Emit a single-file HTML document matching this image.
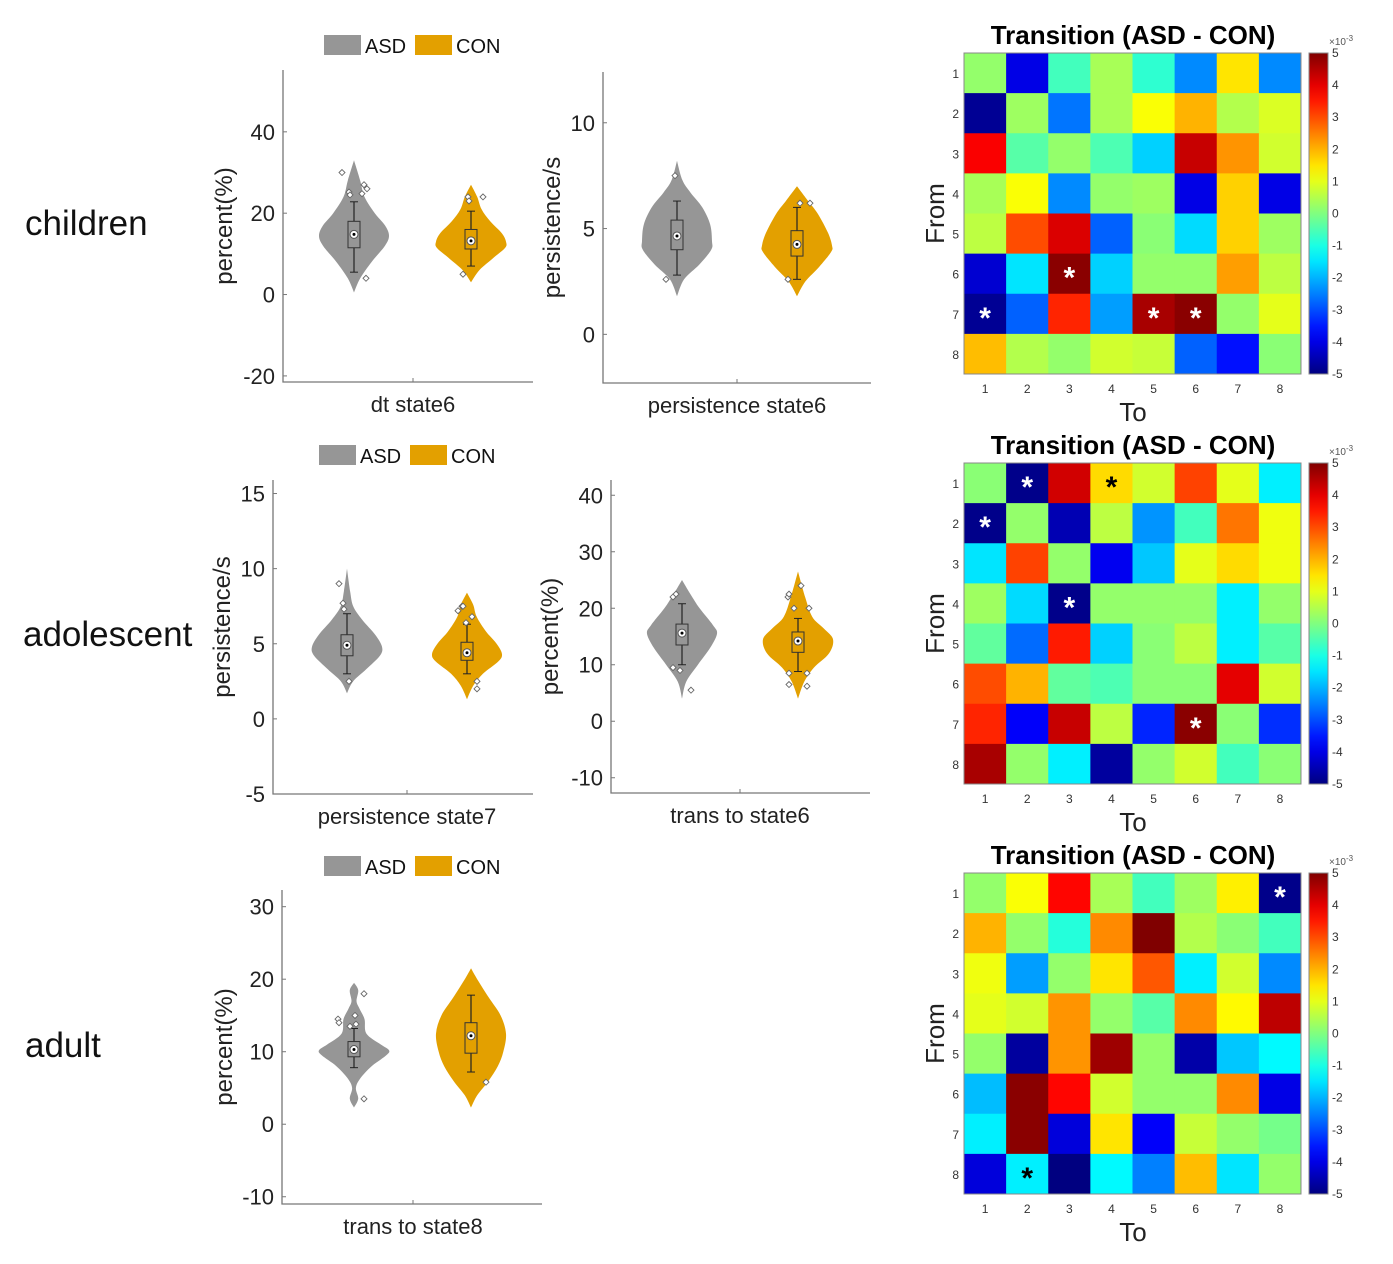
<!DOCTYPE html>
<html><head><meta charset="utf-8">
<style>
body{margin:0;background:#fff;}
svg{display:block;font-family:"Liberation Sans","DejaVu Sans",sans-serif;}
</style></head>
<body>
<svg id="fig" width="1393" height="1264" viewBox="0 0 1393 1264" xmlns="http://www.w3.org/2000/svg">
<rect width="1393" height="1264" fill="#fff"/>
<text x="25" y="235" font-size="35" fill="#111">children</text>
<text x="23" y="646" font-size="35" fill="#111">adolescent</text>
<text x="25" y="1057" font-size="35" fill="#111">adult</text>
<g id="violins"></g>
<g id="heatmaps"></g>
</svg>
<script>
// ---------- Violin data ----------
const panelTitles = ["dt state6","persistence state6","persistence state7","trans to state6","trans to state8"];
const panelYLabels = ["percent(%)","persistence/s","persistence/s","percent(%)","percent(%)"];
const panelTicks = [[-20,0,20,40],[0,5,10],[-5,0,5,10,15],[-10,0,10,20,30,40],[-10,0,10,20,30]];
const panelYRange = [[-21.5,55.2],[-2.3,12.4],[-5,15.9],[-12.7,42.7],[-11,32.3]];
// violin density knots [value, relative half-width]
const asdShapes = [
 [[0.5,0],[4,0.1],[8,0.4],[12,0.85],[14.5,1],[17,0.85],[20,0.5],[24,0.2],[28,0.1],[33,0]],
 [[1.8,0],[2.6,0.12],[3.3,0.55],[4.0,0.97],[4.4,1],[5.2,0.93],[6.0,0.65],[6.7,0.28],[7.3,0.08],[8.2,0]],
 [[1.7,0],[2.5,0.1],[3.3,0.45],[4.2,0.92],[4.8,1],[5.6,0.75],[6.6,0.33],[7.5,0.1],[8.5,0.04],[10,0]],
 [[4,0],[7,0.06],[10,0.35],[13,0.75],[15.5,1],[17,0.85],[20,0.4],[22.5,0.15],[25,0]],
 [[2.3,0],[3.5,0.06],[5,0.02],[6.3,0.1],[8,0.4],[9.5,0.9],[10.2,1],[11,0.7],[12.5,0.25],[14.5,0.2],[16,0.08],[17,0.03],[18.5,0.06],[19.5,0]]
];
const conShapes = [
 [[3,0],[6,0.15],[9,0.55],[11.5,0.97],[13,1],[15,0.85],[18,0.45],[21,0.2],[24,0.1],[27,0]],
 [[1.8,0],[2.5,0.15],[3.2,0.55],[3.9,0.97],[4.2,1],[4.8,0.85],[5.7,0.5],[6.3,0.22],[7.0,0]],
 [[1.3,0],[2.2,0.1],[3.0,0.35],[3.8,0.85],[4.3,1],[5.0,0.8],[5.8,0.45],[6.8,0.18],[7.6,0.1],[8.4,0]],
 [[4,0],[7,0.1],[9.5,0.35],[12,0.85],[14.5,1],[16.5,0.65],[18.5,0.3],[22,0.12],[26.5,0]],
 [[2.3,0],[4,0.1],[6,0.4],[8,0.7],[10,0.9],[12.5,1],[15,0.8],[17.5,0.4],[20,0.1],[21.5,0]]
];
// box stats [whiskerLow, q1, median, q3, whiskerHigh]
const asdBox = [[5.5,11.5,14.8,18,22.8],[2.8,4.0,4.65,5.4,6.3],[3.0,4.2,4.9,5.6,7.0],[10,13.5,15.6,17.2,20.8],[7.8,9.3,10.3,11.4,13.2]];
const conBox = [[7,11.2,13.2,16,20.5],[2.6,3.7,4.25,4.9,6.0],[3.0,3.9,4.4,5.1,6.3],[8.8,12.2,14.2,15.8,18.2],[7.2,9.8,12.2,14,17.8]];
// outlier points [value, jitter]
const asdPts = [
 [[30,-12],[25.2,-5],[24.5,-4],[24.8,8],[27,10],[26,13],[4,12]],
 [[7.5,-2],[2.6,-11]],
 [[9,-8],[7.7,-4],[7.3,-3],[2.5,2]],
 [[22,-9],[22.5,-6],[9.5,-9],[9,-2],[5.5,9]],
 [[18,10],[14.5,-16],[14,-15],[15,1],[13.5,-4],[13.8,2],[3.5,10]]
];
const conPts = [
 [[24,-3],[23,-2],[24,12],[5,-8]],
 [[6.2,3],[6.2,13],[2.6,-9]],
 [[7.2,-9],[7.5,-5],[7.5,-4],[6.8,5],[6.4,-1],[2.5,10],[2,10]],
 [[22,-10],[22.5,-9],[24,3],[20,-4],[20,11],[8.5,-9],[8.5,9],[6.5,-9],[6.2,9]],
 [[5.8,15]]
];
// ---------- Heatmap data (x10^-3) ----------
const hmRows = [1,2,3,4,5,6,7,8];
const hmCols = [1,2,3,4,5,6,7,8];
const hm1 = [
 [0.2,-4,-0.6,0.4,-0.8,-2.4,1.5,-2.4],
 [-4.8,0.3,-2.6,0.4,1.2,2,0.5,0.9],
 [3.8,-0.4,0.2,-0.5,-1.7,4.3,2.3,0.8],
 [0.4,1.2,-2.4,0.2,0.3,-4,1.7,-4],
 [0.6,3,4.1,-2.8,0.1,-1.6,1.7,0.3],
 [-4.2,-1.5,4.9,-1.7,0.2,0.2,2.2,0.6],
 [-4.8,-2.8,3.4,-2.2,4.6,4.9,0.2,1.0],
 [1.9,0.5,0.2,0.8,0.7,-2.8,-3.6,0.1]];
const hm2 = [
 [0.1,-4.9,4.2,1.6,0.8,3.1,1.0,-1.4],
 [-4.9,0.2,-4.5,0.6,-2.3,-0.6,2.6,1.1],
 [-1.5,3.1,0.2,-3.9,-1.8,1.0,1.6,1.1],
 [0.3,-1.6,-4.9,0.2,0.2,0.2,-1.4,0.2],
 [-0.3,-2.7,3.5,-1.7,0.1,0.6,-1.4,-0.4],
 [3.0,2.0,-0.3,-0.5,0.1,0.1,4.0,0.8],
 [3.4,-3.8,4.3,0.6,-3.4,4.9,0.1,-3.3],
 [4.6,0.2,-1.4,-4.7,0.2,0.8,-0.6,0.1]];
const hm3 = [
 [0.2,1.2,3.7,0.4,-0.6,0.3,1.4,-4.9],
 [2.0,0.2,-0.9,2.4,5.0,0.5,0.1,-0.6],
 [1.1,-2.2,0.2,1.5,2.9,-1.4,0.8,-2.4],
 [1.0,0.8,2.3,0.2,-0.4,2.4,1.3,4.4],
 [0.2,-4.7,2.3,4.7,0.2,-4.6,-1.8,-1.3],
 [-1.9,4.9,3.7,0.8,0.2,0.2,2.4,-4.0],
 [-1.4,4.9,-4.1,1.5,-3.8,0.7,0.2,-0.1],
 [-4.1,-1.4,-5.0,-1.3,-2.5,1.9,-1.5,0.2]];
// significance stars [row, col, colour]
const stars1 = [[6,3,"w"],[7,1,"w"],[7,5,"w"],[7,6,"w"]];
const stars2 = [[1,2,"w"],[1,4,"k"],[2,1,"w"],[4,3,"w"],[7,6,"w"]];
const stars3 = [[1,8,"w"],[8,2,"k"]];
const cbTicks = [-5,-4,-3,-2,-1,0,1,2,3,4,5];

const NS="http://www.w3.org/2000/svg";
function mk(tag,attrs,parent,txt){const e=document.createElementNS(NS,tag);for(const k in attrs)e.setAttribute(k,attrs[k]);if(txt!==undefined)e.textContent=txt;parent.appendChild(e);return e;}

const layouts = [
 {x0:283,x1:533,y0:70,y1:382,cA:354,cC:471,xt:413,leg:[324,35],ylx:222},
 {x0:603,x1:871,y0:72,y1:383,cA:677,cC:797,xt:737,leg:null,ylx:550},
 {x0:273,x1:533,y0:480,y1:794,cA:347,cC:467,xt:407,leg:[319,445],ylx:220},
 {x0:611,x1:870,y0:480,y1:793,cA:682,cC:798,xt:740,leg:null,ylx:548},
 {x0:282,x1:542,y0:890,y1:1204,cA:354,cC:471,xt:413,leg:[324,856],ylx:222}
];
const GREY="#969696", GOLD="#E3A000";
function smoothPath(pts){
  let d="M"+pts[0][0]+","+pts[0][1];
  for(let i=0;i<pts.length-1;i++){
    const p0=pts[Math.max(0,i-1)],p1=pts[i],p2=pts[i+1],p3=pts[Math.min(pts.length-1,i+2)];
    const c1=[p1[0]+(p2[0]-p0[0])/6,p1[1]+(p2[1]-p0[1])/6];
    const c2=[p2[0]-(p3[0]-p1[0])/6,p2[1]-(p3[1]-p1[1])/6];
    d+=" C"+c1[0].toFixed(1)+","+c1[1].toFixed(1)+" "+c2[0].toFixed(1)+","+c2[1].toFixed(1)+" "+p2[0].toFixed(1)+","+p2[1].toFixed(1);
  }
  return d;
}
const vg=document.getElementById("violins");
panelTitles.forEach((title,i)=>{
  const L=layouts[i], yr=panelYRange[i];
  const y=v=>L.y1-(v-yr[0])/(yr[1]-yr[0])*(L.y1-L.y0);
  const g=mk("g",{},vg);
  
  
  const ax=mk("path",{d:`M${L.x0},${L.y0} V${L.y1} H${L.x1}`,fill:"none",stroke:"#777","stroke-width":1.3},g);
  
  
  mk("line",{x1:L.xt,y1:L.y1,x2:L.xt,y2:L.y1-4,stroke:"#777"},g);
  panelTicks[i].forEach(t=>{
    mk("line",{x1:L.x0,y1:y(t),x2:L.x0+4,y2:y(t),stroke:"#777"},g);
    const tl=mk("text",{x:L.x0-8,y:y(t)+8,"font-size":22,"text-anchor":"end",fill:"#222"},g,String(t));
    
    
  });
  const yc=(L.y0+L.y1)/2+(i==2?-10:0);
  const yl=mk("text",{x:L.ylx+10,y:yc,"font-size":24,"text-anchor":"middle",fill:"#222",transform:`rotate(-90 ${L.ylx+10} ${yc})`},g,panelYLabels[i]);
  
  
  const xl=mk("text",{x:L.xt,y:L.y1+30,"font-size":22,"text-anchor":"middle",fill:"#222"},g,title);
  
  
  [[asdShapes[i],asdBox[i],asdPts[i],L.cA,GREY,"asd"],[conShapes[i],conBox[i],conPts[i],L.cC,GOLD,"con"]].forEach(([sh,bx,pts,cx,col,nm])=>{
    const hw=35;
    const wf=w=>Math.pow(Math.max(0,w),0.75)*hw;
    const right=sh.map(k=>[cx+wf(k[1]),y(k[0])]);
    const left=sh.slice().reverse().map(k=>[cx-wf(k[1]),y(k[0])]);
    const d=smoothPath(right)+" L"+smoothPath(left).slice(1)+" Z";
    const v=mk("path",{d:d,fill:col,stroke:"none"},g);
    
    
    mk("line",{x1:cx,y1:y(bx[0]),x2:cx,y2:y(bx[4]),stroke:"#222","stroke-width":1.2},g);
    mk("line",{x1:cx-4,y1:y(bx[0]),x2:cx+4,y2:y(bx[0]),stroke:"#222"},g);
    mk("line",{x1:cx-4,y1:y(bx[4]),x2:cx+4,y2:y(bx[4]),stroke:"#222"},g);
    const b=mk("rect",{x:cx-6,y:y(bx[3]),width:12,height:y(bx[1])-y(bx[3]),fill:col,stroke:"#333","stroke-width":1},g);
    
    
    mk("circle",{cx:cx,cy:y(bx[2]),r:4,fill:"#fff",stroke:"#555"},g);
    mk("circle",{cx:cx,cy:y(bx[2]),r:1.5,fill:"#000"},g);
    pts.forEach(p=>{
      const py=y(p[0]), px=cx+p[1];
      const o=mk("path",{d:`M${px},${py-3} L${px+3},${py} L${px},${py+3} L${px-3},${py} Z`,fill:"#fff",stroke:"#666","stroke-width":0.9},g);
      
      
    });
  });
  if(L.leg){
    const [lx,ly]=L.leg;
    const lg=mk("g",{},g);
    
    
    mk("rect",{x:lx,y:ly,width:37,height:20,fill:GREY},lg);
    mk("text",{x:lx+41,y:ly+18,"font-size":20,fill:"#111"},lg,"ASD");
    mk("rect",{x:lx+91,y:ly,width:37,height:20,fill:GOLD},lg);
    mk("text",{x:lx+132,y:ly+18,"font-size":20,fill:"#111"},lg,"CON");
  }
});

// ---------- Heatmaps ----------
function jet(v){
  const t=(v+5)/10;
  const f=x=>Math.max(0,Math.min(1,x));
  const r=f(Math.min(4*t-1.5,-4*t+4.5));
  const gg=f(Math.min(4*t-0.5,-4*t+3.5));
  const b=f(Math.min(4*t+0.5,-4*t+2.5));
  return `rgb(${Math.round(r*255)},${Math.round(gg*255)},${Math.round(b*255)})`;
}
const hg=document.getElementById("heatmaps");
const defs=mk("defs",{},hg);
const grad=mk("linearGradient",{id:"jetgrad",x1:0,y1:1,x2:0,y2:0},defs);
for(let k=0;k<=20;k++){mk("stop",{offset:k/20,"stop-color":jet(-5+k/2)},grad);}
[[hm1,stars1,53],[hm2,stars2,463],[hm3,stars3,873]].forEach(([M,S,top],hi)=>{
  const left=964,right=1301,bottom=top+321;
  const cw=(right-left)/hmCols.length, ch=(bottom-top)/hmRows.length;
  const g=mk("g",{},hg);
  
  
  const tt=mk("text",{x:1133,y:top-9,"font-size":26,"font-weight":"bold","text-anchor":"middle",fill:"#000"},g,"Transition (ASD - CON)");
  
  
  hmRows.forEach((r,ri)=>{
    hmCols.forEach((c,ci)=>{
      const cell=mk("rect",{x:left+ci*cw,y:top+ri*ch,width:cw+0.5,height:ch+0.5,fill:jet(M[ri][ci])},g);
      
      
    });
    mk("text",{x:left-5,y:top+(ri+0.5)*ch+5,"font-size":12,"text-anchor":"end",fill:"#333"},g,String(r));
  });
  hmCols.forEach((c,ci)=>{
    mk("text",{x:left+(ci+0.5)*cw,y:bottom+19,"font-size":12,"text-anchor":"middle",fill:"#333"},g,String(c));
  });
  mk("rect",{x:left,y:top,width:right-left,height:bottom-top,fill:"none",stroke:"#888","stroke-width":1},g);
  S.forEach(([r,c,col])=>{
    const s=mk("text",{x:left+(c-0.5)*cw,y:top+(r-0.5)*ch+14,"font-size":30,"font-weight":"bold","text-anchor":"middle",fill:col=="w"?"#fff":"#000"},g,"*");
    
    
  });
  const xt=mk("text",{x:1133,y:bottom+47,"font-size":26,"text-anchor":"middle",fill:"#222"},g,"To");
  
  
  const yc=(top+bottom)/2;
  const yt=mk("text",{x:944,y:yc,"font-size":26,"text-anchor":"middle",fill:"#222",transform:`rotate(-90 944 ${yc})`},g,"From");
  
  
  const cb=mk("rect",{x:1309,y:top,width:19,height:bottom-top,fill:"url(#jetgrad)",stroke:"#888"},g);
  
  
  cbTicks.forEach(t=>{
    const ty=bottom-(t+5)/10*(bottom-top);
    mk("text",{x:1332,y:ty+4,"font-size":12,fill:"#333"},g,String(t));
  });
  const ex=mk("text",{x:1329,y:top-8,"font-size":10,fill:"#555"},g,"×10");
  mk("tspan",{dy:-4,"font-size":8},ex,"-3");
});
</script>
</body></html>
